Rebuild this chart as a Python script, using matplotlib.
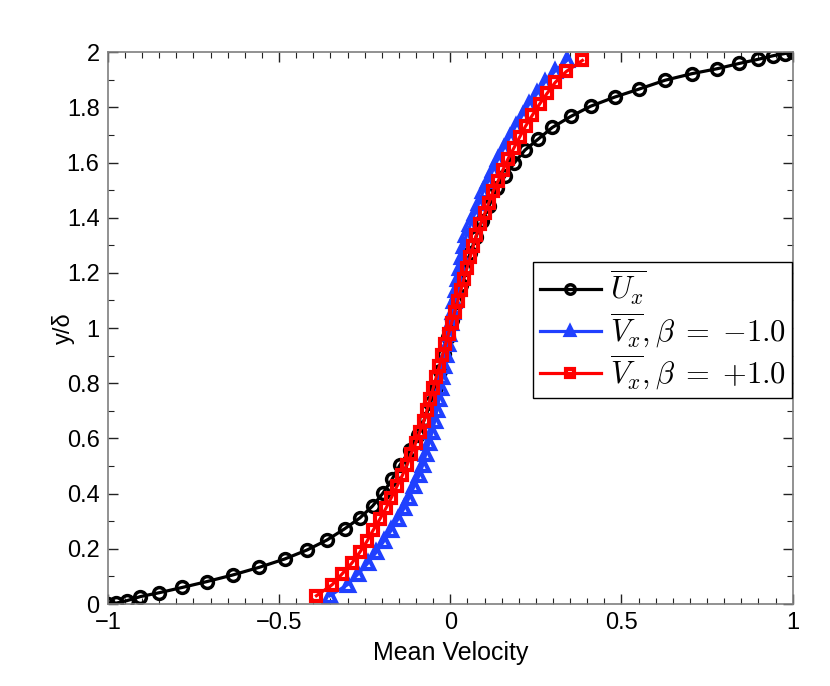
import numpy as np
import matplotlib
matplotlib.use('Agg')
import matplotlib.pyplot as plt
from matplotlib.ticker import MultipleLocator

plt.rcParams['font.family'] = ['Liberation Sans', 'DejaVu Sans']
plt.rcParams['mathtext.fontset'] = 'cm'

# mean velocity U_x (black circles), wall-clustered grid
u_y = [0.000, 0.003, 0.012, 0.027, 0.041, 0.060, 0.081, 0.105, 0.133, 0.163,
       0.196, 0.232, 0.273, 0.312, 0.355, 0.403, 0.452, 0.504,
       0.558, 0.613, 0.670, 0.728, 0.786, 0.845, 0.907, 0.969,
       1.031, 1.093, 1.155, 1.214, 1.272, 1.330, 1.387, 1.442,
       1.506, 1.551, 1.597, 1.645, 1.685, 1.727, 1.767, 1.804, 1.837, 1.866,
       1.898, 1.922, 1.940, 1.959, 1.974, 1.987, 1.995, 2.000]
u_x = [-1.000, -0.977, -0.945, -0.905, -0.850, -0.783, -0.712, -0.636, -0.558, -0.484,
       -0.418, -0.360, -0.308, -0.264, -0.227, -0.196, -0.170, -0.147,
       -0.117, -0.095, -0.075, -0.058, -0.043, -0.030, -0.017, -0.006,
       0.006, 0.017, 0.030, 0.043, 0.058, 0.075, 0.092, 0.113,
       0.136, 0.160, 0.186, 0.218, 0.257, 0.298, 0.352, 0.410, 0.480, 0.551,
       0.627, 0.706, 0.780, 0.844, 0.899, 0.943, 0.977, 1.000]

# V_x profiles (uniform grid)
v_y = [0.030, 0.070, 0.109, 0.149, 0.188, 0.228, 0.268, 0.307, 0.347, 0.386,
       0.426, 0.466, 0.505, 0.545, 0.584, 0.624, 0.664, 0.703, 0.743, 0.782,
       0.822, 0.862, 0.901, 0.941, 0.980, 1.020, 1.059, 1.099, 1.138, 1.178,
       1.218, 1.257, 1.297, 1.336, 1.376, 1.416, 1.455, 1.495, 1.534, 1.574,
       1.614, 1.653, 1.693, 1.732, 1.772, 1.812, 1.851, 1.891, 1.930, 1.970]

v_neg = [-0.352, -0.300, -0.269, -0.240, -0.216, -0.194, -0.172, -0.153, -0.135, -0.120,
         -0.106, -0.091, -0.080, -0.071, -0.062, -0.053, -0.045,
         -0.039, -0.033, -0.028, -0.023, -0.018, -0.013, -0.008, -0.003,
         0.002, 0.007, 0.012, 0.017, 0.022, 0.028, 0.034, 0.040,
         0.047, 0.059, 0.072, 0.084, 0.096, 0.111, 0.125, 0.140, 0.157, 0.174,
         0.191, 0.211, 0.230, 0.254, 0.276, 0.305, 0.341]

v_pos = [-0.391, -0.345, -0.316, -0.287, -0.264, -0.243, -0.225, -0.206, -0.188, -0.172,
         -0.156, -0.140, -0.126, -0.114, -0.101, -0.089, -0.077,
         -0.068, -0.059, -0.050, -0.041, -0.032, -0.023, -0.014, -0.005,
         0.004, 0.013, 0.022, 0.031, 0.040, 0.049, 0.058, 0.067,
         0.076, 0.088, 0.101, 0.113, 0.125, 0.140, 0.154, 0.169, 0.186, 0.203,
         0.220, 0.240, 0.261, 0.283, 0.307, 0.339, 0.386]

labels = [r'$\overline{U_x}$',
          r'$\overline{V_x}, \beta\;=\;{-1.0}$',
          r'$\overline{V_x}, \beta\;=\;{+1.0}$']

x_ticks = [-1, -0.5, 0, 0.5, 1]
x_ticklabels = ['\u22121', '\u22120.5', '0', '0.5', '1']
y_ticks = [0, 0.2, 0.4, 0.6, 0.8, 1.0, 1.2, 1.4, 1.6, 1.8, 2.0]
y_ticklabels = ['0', '0.2', '0.4', '0.6', '0.8', '1', '1.2', '1.4', '1.6', '1.8', '2']

fig = plt.figure(figsize=(8.3, 6.86), dpi=100)
ax = fig.add_axes([0.130, 0.1195, 0.825, 0.8045])

ax.plot(u_x, u_y, color='k', lw=2.3, marker='o', ms=8.5, mfc='none', mew=2.5,
        label=labels[0])
ax.plot(v_neg, v_y, color='#2040ff', lw=2.3, marker='^', ms=8, mfc='none', mew=3.0,
        label=labels[1])
ax.plot(v_pos, v_y, color='#ff0000', lw=2.3, marker='s', ms=6.5, mfc='none', mew=3.0,
        label=labels[2])

ax.set_xlim(-1, 1)
ax.set_ylim(0, 2)
ax.set_xticks(x_ticks)
ax.set_xticklabels(x_ticklabels)
ax.set_yticks(y_ticks)
ax.set_yticklabels(y_ticklabels)
ax.xaxis.set_minor_locator(MultipleLocator(0.05))
ax.yaxis.set_minor_locator(MultipleLocator(0.1))

spine_col = '#7f7f7f'
for s in ax.spines.values():
    s.set_color(spine_col)
    s.set_linewidth(1.2)
ax.tick_params(which='both', direction='in', top=True, right=True,
               color='#222222', labelcolor='k', labelsize=17, pad=6)
ax.tick_params(which='major', length=7, width=1.0)
ax.tick_params(which='minor', length=4, width=0.8)

ax.set_xlabel('Mean Velocity', fontsize=18, labelpad=5)
ax.set_ylabel('y/\u03b4', fontsize=17, labelpad=-6)

leg = ax.legend(loc='upper right', bbox_to_anchor=(0.999, 0.62), borderaxespad=0,
                fontsize=22, handlelength=2.0, handletextpad=0.3,
                labelspacing=0.1, borderpad=0.2, fancybox=False, framealpha=1,
                markerscale=0.8)
leg.get_frame().set_edgecolor('k')
leg.get_frame().set_linewidth(1.0)

fig.savefig('out.png', dpi=100)
